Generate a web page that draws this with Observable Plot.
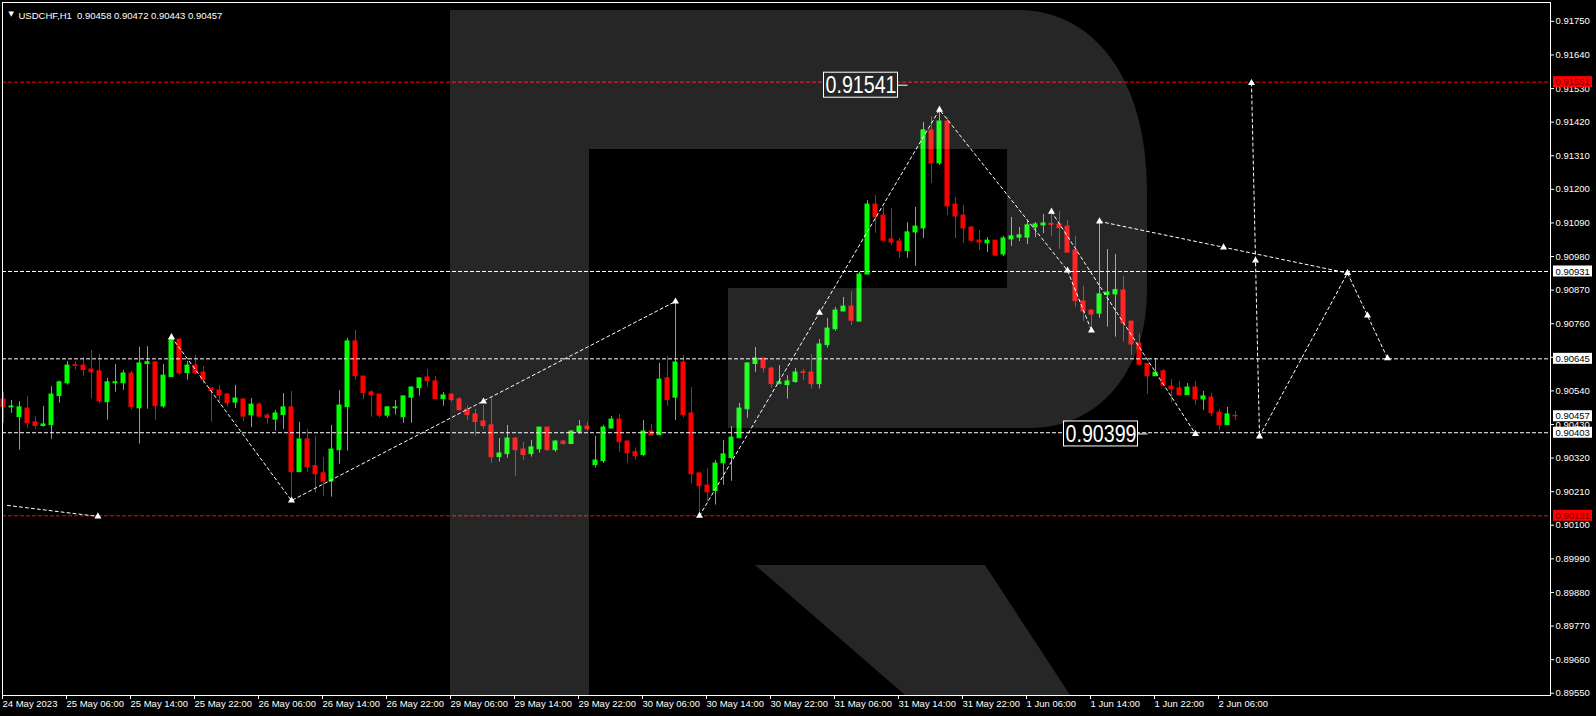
<!DOCTYPE html>
<html>
<head>
<meta charset="utf-8">
<script src="https://cdn.jsdelivr.net/npm/d3@7"></script>
<script src="https://cdn.jsdelivr.net/npm/@observablehq/plot@0.6"></script>
<style>
  html, body { margin: 0; padding: 0; background: #000; }
  #chart { width: 1596px; height: 716px; overflow: hidden; }
</style>
</head>
<body>
<div id="chart"></div>
<script>
// USDCHF hourly candles, bar 0 = 24 May 2023 22:00, last bar = 2 Jun 2023 08:00
const symbol = "USDCHF";
const timeframe = "H1";

const opens = [
  0.90512,0.90486,0.90454,0.90482,0.90437,0.90425,0.90428,0.90523,0.90565,0.90624,
  0.90623,0.90610,0.90604,0.90503,0.90565,0.90565,0.90597,0.90483,0.90628,0.90633,
  0.90489,0.90585,0.90708,0.90598,0.90623,0.90600,0.90548,0.90541,0.90528,0.90502,
  0.90512,0.90460,0.90495,0.90459,0.90446,0.90461,0.90486,0.90274,0.90381,0.90294,
  0.90270,0.90243,0.90346,0.90487,0.90702,0.90587,0.90535,0.90528,0.90459,0.90483,
  0.90454,0.90518,0.90549,0.90584,0.90571,0.90513,0.90528,0.90512,0.90479,0.90463,
  0.90440,0.90427,0.90323,0.90333,0.90384,0.90348,0.90333,0.90349,0.90420,0.90346,
  0.90374,0.90366,0.90404,0.90423,0.90297,0.90310,0.90417,0.90446,0.90374,0.90339,
  0.90330,0.90407,0.90395,0.90581,0.90518,0.90633,0.90466,0.90270,0.90230,0.90212,
  0.90303,0.90320,0.90385,0.90480,0.90628,0.90646,0.90613,0.90562,0.90559,0.90569,
  0.90601,0.90600,0.90562,0.90690,0.90742,0.90800,0.90816,0.90767,0.90921,0.91150,
  0.91114,0.91036,0.91029,0.90998,0.91059,0.91072,0.91393,0.91285,0.91422,0.91150,
  0.91114,0.91075,0.91032,0.91023,0.91032,0.90987,0.91036,0.91042,0.91042,0.91075,
  0.91082,0.91087,0.91085,0.91078,0.91000,0.90833,0.90803,0.90793,0.90854,0.90856,
  0.90869,0.90767,0.90695,0.90628,0.90588,0.90604,0.90554,0.90548,0.90526,0.90551,
  0.90512,0.90518,0.90469,0.90428,0.90458
];
const highs = [
  0.90536,0.90509,0.90505,0.90522,0.90455,0.90489,0.90554,0.90572,0.90636,0.90636,
  0.90649,0.90672,0.90660,0.90581,0.90626,0.90607,0.90604,0.90683,0.90685,0.90636,
  0.90626,0.90725,0.90708,0.90637,0.90656,0.90620,0.90548,0.90558,0.90531,0.90558,
  0.90512,0.90515,0.90502,0.90466,0.90476,0.90531,0.90538,0.90437,0.90414,0.90391,
  0.90322,0.90427,0.90541,0.90712,0.90738,0.90587,0.90541,0.90528,0.90489,0.90509,
  0.90522,0.90554,0.90581,0.90610,0.90587,0.90535,0.90528,0.90518,0.90492,0.90479,
  0.90492,0.90518,0.90384,0.90427,0.90387,0.90371,0.90378,0.90420,0.90420,0.90378,
  0.90378,0.90410,0.90443,0.90437,0.90391,0.90427,0.90456,0.90463,0.90378,0.90353,
  0.90443,0.90430,0.90630,0.90653,0.90834,0.90656,0.90551,0.90270,0.90286,0.90312,
  0.90378,0.90423,0.90499,0.90630,0.90682,0.90646,0.90618,0.90623,0.90590,0.90613,
  0.90610,0.90659,0.90708,0.90777,0.90813,0.90846,0.90865,0.90928,0.91163,0.91180,
  0.91141,0.91137,0.91039,0.91091,0.91141,0.91419,0.91438,0.91461,0.91435,0.91173,
  0.91147,0.91078,0.91065,0.91042,0.91032,0.91046,0.91108,0.91075,0.91095,0.91091,
  0.91118,0.91127,0.91127,0.91098,0.91046,0.90882,0.90807,0.91095,0.91003,0.90987,
  0.90915,0.90767,0.90725,0.90628,0.90645,0.90610,0.90577,0.90571,0.90564,0.90571,
  0.90538,0.90532,0.90479,0.90486,0.90472
];
const lows = [
  0.90434,0.90467,0.90346,0.90418,0.90414,0.90421,0.90382,0.90500,0.90559,0.90608,
  0.90588,0.90513,0.90497,0.90444,0.90536,0.90542,0.90477,0.90366,0.90480,0.90444,
  0.90483,0.90585,0.90591,0.90575,0.90594,0.90563,0.90438,0.90506,0.90487,0.90482,
  0.90440,0.90420,0.90452,0.90431,0.90408,0.90414,0.90181,0.90274,0.90274,0.90205,
  0.90195,0.90192,0.90300,0.90343,0.90575,0.90512,0.90454,0.90451,0.90451,0.90461,
  0.90434,0.90434,0.90523,0.90552,0.90513,0.90490,0.90503,0.90474,0.90444,0.90392,
  0.90415,0.90303,0.90307,0.90320,0.90261,0.90313,0.90323,0.90336,0.90343,0.90339,
  0.90362,0.90366,0.90398,0.90407,0.90287,0.90303,0.90414,0.90339,0.90303,0.90313,
  0.90326,0.90391,0.90395,0.90490,0.90443,0.90451,0.90235,0.90130,0.90176,0.90166,
  0.90231,0.90244,0.90385,0.90451,0.90601,0.90598,0.90549,0.90562,0.90513,0.90565,
  0.90575,0.90546,0.90546,0.90680,0.90735,0.90800,0.90754,0.90767,0.90921,0.91056,
  0.91030,0.91016,0.90974,0.90974,0.90948,0.91039,0.91219,0.91278,0.91114,0.91039,
  0.91023,0.91026,0.91000,0.90993,0.90980,0.90980,0.91013,0.91029,0.91019,0.91042,
  0.91055,0.91046,0.91003,0.90993,0.90814,0.90768,0.90738,0.90778,0.90749,0.90716,
  0.90700,0.90656,0.90626,0.90529,0.90588,0.90556,0.90502,0.90526,0.90526,0.90493,
  0.90476,0.90457,0.90411,0.90428,0.90443
];
const closes = [
  0.90487,0.90489,0.90486,0.90434,0.90425,0.90430,0.90528,0.90568,0.90623,0.90622,
  0.90608,0.90601,0.90506,0.90568,0.90568,0.90597,0.90487,0.90630,0.90634,0.90490,
  0.90590,0.90708,0.90598,0.90623,0.90598,0.90575,0.90539,0.90525,0.90500,0.90515,
  0.90456,0.90495,0.90456,0.90451,0.90466,0.90486,0.90274,0.90381,0.90290,0.90267,
  0.90243,0.90348,0.90492,0.90702,0.90588,0.90533,0.90526,0.90459,0.90486,0.90486,
  0.90522,0.90551,0.90581,0.90572,0.90513,0.90525,0.90510,0.90477,0.90461,0.90438,
  0.90425,0.90323,0.90335,0.90384,0.90346,0.90330,0.90355,0.90420,0.90346,0.90374,
  0.90366,0.90407,0.90423,0.90415,0.90312,0.90420,0.90446,0.90372,0.90336,0.90326,
  0.90407,0.90394,0.90577,0.90510,0.90633,0.90461,0.90267,0.90228,0.90208,0.90302,
  0.90332,0.90387,0.90482,0.90630,0.90646,0.90614,0.90562,0.90568,0.90571,0.90600,
  0.90599,0.90562,0.90692,0.90744,0.90803,0.90816,0.90770,0.90921,0.91150,0.91109,
  0.91032,0.91026,0.90998,0.91059,0.91078,0.91393,0.91285,0.91422,0.91144,0.91111,
  0.91072,0.91032,0.91026,0.91032,0.90983,0.91039,0.91046,0.91049,0.91082,0.91085,
  0.91088,0.91084,0.91073,0.90993,0.90834,0.90800,0.90790,0.90856,0.90862,0.90870,
  0.90761,0.90692,0.90626,0.90588,0.90600,0.90558,0.90545,0.90526,0.90551,0.90512,
  0.90522,0.90467,0.90428,0.90463,0.90457
];

// time-axis labels, one every 8 bars starting at bar 0
const labelStep = 8;
const timeLabels = [
  "24 May 2023","25 May 06:00","25 May 14:00","25 May 22:00","26 May 06:00",
  "26 May 14:00","26 May 22:00","29 May 06:00","29 May 14:00","29 May 22:00",
  "30 May 06:00","30 May 14:00","30 May 22:00","31 May 06:00","31 May 14:00",
  "31 May 22:00","1 Jun 06:00","1 Jun 14:00","1 Jun 22:00","2 Jun 06:00"
];

// price-axis ticks
const priceTicks = [
  0.91750,0.91640,0.91530,0.91420,0.91310,0.91200,0.91090,0.90980,0.90870,0.90760,
  0.90650,0.90540,0.90430,0.90320,0.90210,0.90100,0.89990,0.89880,0.89770,0.89660,0.89550
];
const priceRange = [0.895426, 0.918118];

// horizontal levels
const levelPrices = [0.91551, 0.90931, 0.90645, 0.90403, 0.90131];
const levelIsTarget = [true, false, false, false, true];

// forecast paths: bar position and price of each vertex
const pathIds    = ["a","a", "b","b","b", "c","c","c","c","c", "d","d", "e","e", "f","f","f", "g","g"];
const pathBars   = [0.5, 11.8, 21, 36, 84, 87, 102, 117, 133, 136, 131, 149, 156, 157, 157, 168, 173, 137, 168];
const pathPrices = [0.90165,0.90129, 0.90716,0.90181,0.90833, 0.90131,0.90796,0.91461,0.90934,0.90738,
                    0.91127,0.90399, 0.91548,0.90391, 0.90391,0.90926,0.90647, 0.91095,0.90926];

// arrow marks along the forecast paths
const markBars   = [11.8, 21, 36, 60, 84, 87, 102, 117, 131, 133, 136, 137, 149, 152.5, 156, 156.5, 157, 168, 170.5, 173];
const markPrices = [0.90129,0.90716,0.90181,0.90505,0.90833,0.90131,0.90796,0.91461,0.91127,0.90934,
                    0.90738,0.91095,0.90399,0.91010,0.91548,0.90967,0.90391,0.90926,0.90787,0.90647];

// boxed price callouts on the chart
const calloutBars   = [113, 143];
const calloutPrices = [0.91541, 0.90399];

// --- layout ---
const W = 1596, H = 716;
const mL = 2, mR = 46, mT = 2, mB = 21;
const pxPerBar = 8;
const firstBarPx = 3;
const xDomain = [-(firstBarPx - mL) / pxPerBar, -(firstBarPx - mL) / pxPerBar + (W - mL - mR) / pxPerBar];
const pxPerPrice = (H - mT - mB) / (priceRange[1] - priceRange[0]);
const barAtPx = px => xDomain[0] + (px - mL) / pxPerBar;
const priceSpan = px => px / pxPerPrice;

const BULL = "#00ff00", BEAR = "#ff0000", RED = "#ff0000";
const FONT = "'Liberation Sans', Arial, sans-serif";

const bars = opens.map((o, i) => ({
  i, o, h: highs[i], l: lows[i], c: closes[i], up: closes[i] >= o
}));
const levels = levelPrices.map((p, k) => ({p, target: levelIsTarget[k]}));
const pathPts = pathIds.map((id, k) => ({id, i: pathBars[k], p: pathPrices[k]}));
const marks = markBars.map((i, k) => ({i, p: markPrices[k]}));
const callouts = calloutBars.map((i, k) => ({i, p: calloutPrices[k], text: calloutPrices[k].toFixed(5)}));
const last = bars[bars.length - 1];
const axisBoxes = [
  ...levels.map(d => ({p: d.p, bg: d.target ? RED : "#ffffff", fg: d.target ? "#7a0000" : "#000000"})),
  {p: last.c, bg: "#ffffff", fg: "#000000"}
];
const header = `${symbol},${timeframe}  ${[last.o, last.h, last.l, last.c].map(v => v.toFixed(5)).join(" ")}`;

const calloutW = 74;      // px
const calloutH = 25;      // px
const calloutGap = 9.5;   // px between box and arrow tip

const color = d => d.up ? BULL : BEAR;

const chart = Plot.plot({
  width: W, height: H,
  marginLeft: mL, marginRight: mR, marginTop: mT, marginBottom: mB,
  x: {domain: xDomain},
  y: {domain: priceRange},
  style: {background: "#000", color: "#fff", fontFamily: FONT, fontSize: "9.5px"},
  marks: [
    // candle wicks and bodies
    Plot.ruleX(bars, {x: "i", y1: "l", y2: "h", stroke: color, strokeWidth: 1}),
    Plot.rect(bars, {x1: d => d.i - 0.25, x2: d => d.i + 0.25, y1: "o", y2: "c", fill: color, stroke: color, strokeWidth: 1}),
    // support / resistance levels
    Plot.ruleY(levels, {y: "p", stroke: d => d.target ? RED : "#ffffff", strokeDasharray: "4,2", strokeWidth: 1}),
    // forecast paths
    Plot.line(pathPts, {x: "i", y: "p", z: "id", stroke: "#ffffff", strokeWidth: 1, strokeDasharray: "3,3"}),
    Plot.dot(marks, {x: "i", y: "p", symbol: "triangle", r: 2.6, fill: "#ffffff", stroke: "none"}),
    // boxed callouts
    Plot.link(callouts, {x1: d => d.i - calloutGap / pxPerBar, x2: "i", y1: "p", y2: "p", stroke: "#ffffff"}),
    Plot.rect(callouts, {
      x1: d => d.i - (calloutGap + calloutW) / pxPerBar, x2: d => d.i - calloutGap / pxPerBar,
      y1: d => d.p - priceSpan(calloutH / 2), y2: d => d.p + priceSpan(calloutH / 2),
      fill: "#000", stroke: "#ffffff", strokeWidth: 1
    }),
    Plot.text(callouts, {
      x: d => d.i - (calloutGap + calloutW / 2) / pxPerBar, y: "p", text: "text",
      fill: "#ffffff", fontSize: 24, fontFamily: FONT, className: "callout-text"
    }),
    // frame and axes
    Plot.frame({stroke: "#ffffff"}),
    Plot.axisY({
      anchor: "right", ticks: priceTicks, tickFormat: d => d.toFixed(5),
      tickSize: 3, tickPadding: 2, label: null, fill: "#ffffff", stroke: "#ffffff"
    }),
    Plot.axisX({
      anchor: "bottom", ticks: timeLabels.map((_, k) => k * labelStep),
      tickFormat: d => timeLabels[Math.round(d / labelStep)],
      textAnchor: "start", tickSize: 4, tickPadding: 1, dx: -1, label: null,
      fill: "#ffffff", stroke: "#ffffff"
    }),
    // price boxes on the axis
    Plot.rect(axisBoxes, {
      x1: barAtPx(1553), x2: barAtPx(1592),
      y1: d => d.p - priceSpan(5.5), y2: d => d.p + priceSpan(5.5), fill: d => d.bg
    }),
    Plot.text(axisBoxes, {
      x: barAtPx(1555), y: "p", text: d => d.p.toFixed(5), fill: d => d.fg, textAnchor: "start"
    }),
    // symbol header
    Plot.text([header], {frameAnchor: "top-left", dx: 16, dy: 10, text: d => d, textAnchor: "start", fill: "#ffffff"}),
    Plot.text(["\u25BC"], {frameAnchor: "top-left", dx: 6, dy: 9, text: d => d, fill: "#ffffff", fontSize: 7, fontFamily: "DejaVu Sans"})
  ]
});

// narrow the callout lettering
chart.querySelectorAll(".callout-text text").forEach(t => {
  t.setAttribute("textLength", "71");
  t.setAttribute("lengthAdjust", "spacingAndGlyphs");
});

// translucent brand watermark drawn over the plot area
const ns = "http://www.w3.org/2000/svg";
const mark = document.createElementNS(ns, "g");
mark.setAttribute("fill", "#ffffff");
mark.setAttribute("fill-opacity", "0.149");
const bowl = document.createElementNS(ns, "path");
bowl.setAttribute("d",
  "M450,10 H1018 C1095,10 1147,80 1147,190 V290 C1147,370 1100,428 1030,428 H728 V288 H1007 V149 H589 V695 H450 Z");
const leg = document.createElementNS(ns, "path");
leg.setAttribute("d", "M755,565 H985 L1070,695 H905 Z");
mark.append(bowl, leg);
chart.append(mark);

document.getElementById("chart").append(chart);
</script>
</body>
</html>
